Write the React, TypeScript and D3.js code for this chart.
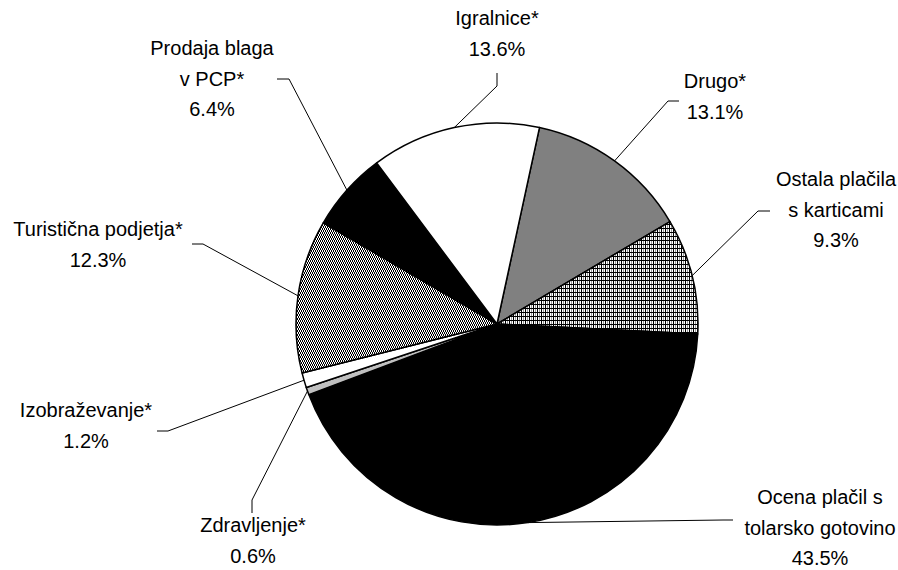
import React from 'react';
import * as d3 from 'd3';

// slices in clockwise order, starting from the top right
const categories = ['Drugo*', 'Ostala plačila s karticami', 'Ocena plačil s tolarsko gotovino', 'Zdravljenje*', 'Izobraževanje*', 'Turistična podjetja*', 'Prodaja blaga v PCP*', 'Igralnice*'];
const shares = [13.1, 9.3, 43.5, 0.6, 1.2, 12.3, 6.4, 13.6];
const labelLines = [
  ['Drugo*'],
  ['Ostala plačila', 's karticami'],
  ['Ocena plačil s', 'tolarsko gotovino'],
  ['Zdravljenje*'],
  ['Izobraževanje*'],
  ['Turistična podjetja*'],
  ['Prodaja blaga', 'v PCP*'],
  ['Igralnice*'],
];

const fills = ['#808080', 'url(#grid)', '#000', '#c0c0c0', '#fff', 'url(#weave)', '#000', '#fff'];

// label placement: text centre x, first baseline, leader elbow, leader end
const labelPos = [
  { x: 715, y: 88, elbow: [668, 101], end: [679, 101] },
  { x: 836, y: 186, elbow: [758, 211], end: [770, 211] },
  { x: 820, y: 504, elbow: [723, 520], end: [733, 520] },
  { x: 253, y: 532, elbow: [252, 500], end: [252, 513] },
  { x: 86, y: 417, elbow: [168, 431], end: [157, 431] },
  { x: 98, y: 236, elbow: [203, 244], end: [192, 244] },
  { x: 212, y: 55, elbow: [289, 79], end: [277, 79] },
  { x: 497, y: 25, elbow: [497, 86], end: [497, 73] },
];

const W = 898, H = 570;
const cx = 497, cy = 324, R = 201;
const start = (12.2 * Math.PI) / 180;
const lineH = 30.5;

export default function App() {
  const pie = d3.pie<number>().sort(null).startAngle(start).endAngle(start + 2 * Math.PI);
  const arcs = pie(shares);
  const arc = d3.arc<d3.PieArcDatum<number>>().innerRadius(0).outerRadius(R);
  const line = d3.line();

  return (
    <svg width={W} height={H} style={{ position: 'absolute', left: 0, top: 0, background: '#fff' }}
      fontFamily="'Liberation Sans', Arial, sans-serif" fontSize={20}>
      <defs>
        <pattern id="grid" width={4} height={4} patternUnits="userSpaceOnUse">
          <rect width={4} height={4} fill="#fff" />
          <rect x={0} y={0} width={1} height={4} fill="#000" shapeRendering="crispEdges" />
          <rect x={2} y={0} width={1} height={4} fill="#999" shapeRendering="crispEdges" />
          <rect x={0} y={0} width={4} height={1} fill="#000" shapeRendering="crispEdges" />
        </pattern>
        <pattern id="weave" width={2} height={4} patternUnits="userSpaceOnUse">
          <rect width={2} height={4} fill="#000" />
          <rect x={0} y={0} width={1} height={2} fill="#fff" shapeRendering="crispEdges" />
          <rect x={1} y={2} width={1} height={2} fill="#fff" shapeRendering="crispEdges" />
        </pattern>
      </defs>
      <g transform={`translate(${cx},${cy})`}>
        {arcs.map((a, i) => (
          <path key={categories[i]} d={arc(a) || ''} fill={fills[i]} stroke="#000" strokeWidth={1.5} strokeLinejoin="round" />
        ))}
      </g>
      {arcs.map((a, i) => {
        const mid = (a.startAngle + a.endAngle) / 2;
        const p0: [number, number] = [cx + R * Math.sin(mid), cy - R * Math.cos(mid)];
        const lp = labelPos[i];
        return (
          <path key={'l' + i} d={line([p0, lp.elbow as [number, number], lp.end as [number, number]]) || ''}
            fill="none" stroke="#000" strokeWidth={1} />
        );
      })}
      {labelLines.map((lines, i) => {
        const lp = labelPos[i];
        const all = [...lines, shares[i].toFixed(1) + '%'];
        return (
          <text key={'t' + i} textAnchor="middle" fill="#000">
            {all.map((s, j) => (
              <tspan key={j} x={lp.x} y={lp.y + j * lineH}>{s}</tspan>
            ))}
          </text>
        );
      })}
    </svg>
  );
}
